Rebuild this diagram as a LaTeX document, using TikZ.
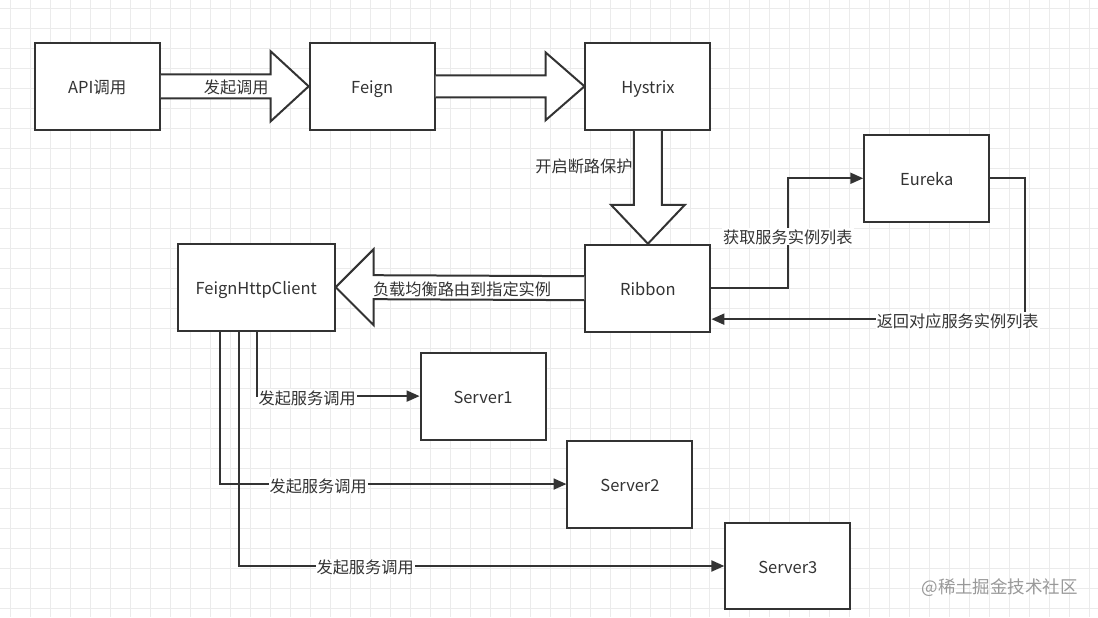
\documentclass[tikz,border=0pt]{standalone}
\usepackage{fontspec}
\setmainfont{Noto Sans CJK SC}
\usetikzlibrary{arrows.meta,calc}
\definecolor{ink}{HTML}{333333}
\definecolor{gridc}{HTML}{EBEBEB}
\begin{document}
\begin{tikzpicture}[x=1pt,y=-1pt,
  box/.style={draw=ink,line width=2pt,fill=white,minimum width=125pt,minimum height=87pt,inner sep=0pt,font=\fontsize{16.5}{19}\selectfont,text=ink,text height=15pt,text depth=0pt},
  blk/.style={draw=ink,line width=2pt,fill=white,line join=miter},
  conn/.style={draw=ink,line width=2pt,-{Triangle[length=13pt,width=11pt]}},
  lbl/.style={font=\fontsize{16.2}{19}\selectfont,text=ink,inner sep=1pt,text height=14.5pt,text depth=0.5pt},
  wlbl/.style={lbl,fill=white}]
\fill[white] (0,0) rectangle (1098,617);
\foreach \i in {0,20,...,1098} \draw[gridc,line width=0.8pt] (\i+10,0) -- (\i+10,617);
\foreach \j in {0,20,...,617} \draw[gridc,line width=0.8pt] (0,\j+8) -- (1098,\j+8);
\useasboundingbox (0,0) rectangle (1098,617);

\node[box] (api) at (97,86) {API调用};
\node[box] (feign) at (372,86) {Feign};
\node[box] (hys) at (648,86) {Hystrix};
\node[box] (eur) at (927,178) {Eureka};
\node[box] (rib) at (648,288) {Ribbon};
\node[box,minimum width=157pt] (fhc) at (256,287) {FeignHttpClient};
\node[box] (s1) at (483,396) {Server1};
\node[box] (s2) at (630,484) {Server2};
\node[box] (s3) at (788,566) {Server3};

% block arrow API -> Feign
\draw[blk] ($(api.east)+(0,-12)$) -- ($(feign.west)+(-38,-12)$) -- ($(feign.west)+(-38,-35)$) -- (feign.west)
  -- ($(feign.west)+(-38,35)$) -- ($(feign.west)+(-38,12)$) -- ($(api.east)+(0,12)$);
\node[lbl] (l1) at (236,86) {发起调用};
% block arrow Feign -> Hystrix
\draw[blk] ($(feign.east)+(0,-11)$) -- ($(hys.west)+(-39,-11)$) -- ($(hys.west)+(-39,-34)$) -- (hys.west)
  -- ($(hys.west)+(-39,34)$) -- ($(hys.west)+(-39,11)$) -- ($(feign.east)+(0,11)$);
% block arrow Hystrix -> Ribbon
\draw[blk] ($(hys.south)+(-14,0)$) -- ($(rib.north)+(-14,-39)$) -- ($(rib.north)+(-37,-39)$) -- (rib.north)
  -- ($(rib.north)+(37,-39)$) -- ($(rib.north)+(14,-39)$) -- ($(hys.south)+(14,0)$);
\node[lbl] (l2) at (584,165) {开启断路保护};
% block arrow Ribbon -> FeignHttpClient
\draw[blk] ($(rib.west)+(0,-12)$) -- ($(fhc.east)+(38,-12)$) -- ($(fhc.east)+(38,-38)$) -- (fhc.east)
  -- ($(fhc.east)+(38,38)$) -- ($(fhc.east)+(38,12)$) -- ($(rib.west)+(0,12)$);
\node[lbl] (l3) at (462,288) {负载均衡路由到指定实例};

% Ribbon -> Eureka
\coordinate (c1) at (788,288);
\draw[conn] (rib.east) -- (c1) |- (eur.west);
\node[wlbl] (l4) at (788,236) {获取服务实例列表};
% Eureka -> Ribbon
\coordinate (c2) at (1025,178);
\draw[conn] (eur.east) -- (c2) |- ($(rib.east)+(0,31)$);
\node[wlbl] (l5) at (958,320) {返回对应服务实例列表};

% FeignHttpClient -> servers
\draw[conn] ($(fhc.south)+(1,0)$) |- (s1.west);
\node[wlbl] (l6) at (307,397) {发起服务调用};
\draw[conn] ($(fhc.south)+(-36,0)$) |- (s2.west);
\node[wlbl] (l7) at (318,485) {发起服务调用};
\draw[conn] ($(fhc.south)+(-17,0)$) |- (s3.west);
\node[wlbl] (l8) at (365,567) {发起服务调用};

\node[font=\fontsize{17.5}{20}\selectfont,text=black!40] (wm) at (1000,588) {@稀土掘金技术社区};
\end{tikzpicture}
\end{document}
